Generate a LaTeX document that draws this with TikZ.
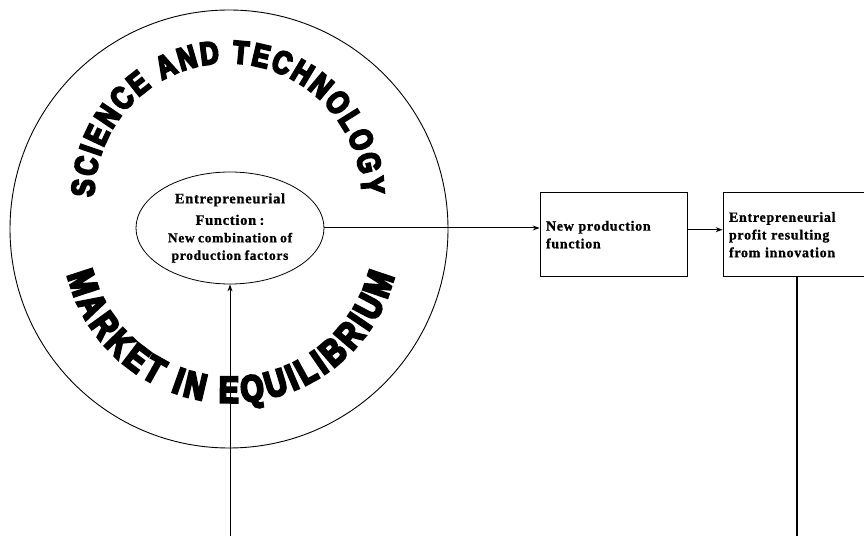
\documentclass[tikz,border=0pt]{standalone}
\usepackage{fontspec}
\setmainfont{Liberation Serif}
\newfontfamily\boxfont[LetterSpace=5,FakeBold=1]{Liberation Serif Bold}
\newfontfamily\wafont[FakeBold=6.5,FakeStretch=0.8]{Liberation Sans Bold}
\newcommand\topfont{\wafont\fontsize{32}{32}\selectfont}
\newcommand\botfont{\wafont\fontsize{37}{37}\selectfont}
\usetikzlibrary{shapes.geometric,arrows.meta,decorations.text}
\begin{document}
\begin{tikzpicture}[x=1pt,y=1pt,
  conn/.style={line width=1pt,-{Stealth[length=7pt,width=5pt]}},
  boxnode/.style={draw,line width=0.7pt,rectangle,minimum height=84pt,inner xsep=6pt,inner ysep=0pt,align=left,
    font=\boxfont\fontsize{14}{17.7}\selectfont}]
\useasboundingbox (0,0) rectangle (864,538);
% outer circle and ellipse
\node[circle,draw,line width=0.9pt,minimum size=438pt,inner sep=0pt] (outer) at (229,309) {};
\node[ellipse,draw,line width=0.8pt,minimum width=188pt,minimum height=112pt,inner sep=0pt] (ell) at (230,310) {};
\node[text width=180pt,align=center,inner sep=0pt] (elltxt) at (230,310)
  {{\boxfont\fontsize{14.5}{21.5}\selectfont Entrepreneurial\\Function :\par}%
   {\boxfont\fontsize{13.5}{17.5}\selectfont New combination of\\production factors\par}};
% curved texts
\path[decorate,decoration={text along path,text={|\topfont|SCIENCE AND TECHNOLOGY},text align={fit to path}}]
  (228,341) ++(180:134) arc[start angle=180,end angle=1,radius=134];
\path[decorate,decoration={text along path,text={|\botfont|MARKET IN EQUILIBRIUM},text align={fit to path}}]
  (231,304) ++(194:168.5) arc[start angle=194,end angle=345.5,radius=168.5];
% boxes
\node[boxnode,text width=135pt] (box1) at (613.5,303.3) {New production\\function};
\node[boxnode,text width=136pt] (box2) at (797,303.3) {Entrepreneurial\\profit resulting\\from innovation};
% connectors
\coordinate (src) at (230,2);
\coordinate (sink) at (797,2);
\draw[conn] (ell.east) -- (ell.east -| box1.west);
\draw[conn] ([yshift=5pt]box1.east) -- ([yshift=5pt]box1.east -| box2.west);
\draw[conn] (src) -- (ell.south);
\draw[line width=1.6pt] (box2.south) -- (sink);
\end{tikzpicture}
\end{document}
